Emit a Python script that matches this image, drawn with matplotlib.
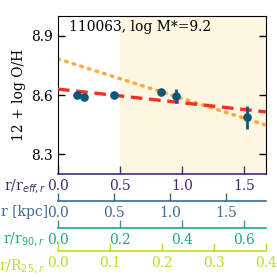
import numpy as np
import matplotlib
matplotlib.use('Agg')
import matplotlib.pyplot as plt

plt.rcParams.update({
    'font.family': 'DejaVu Serif',
    'font.size': 10,
    'mathtext.fontset': 'dejavusans',
    'xtick.direction': 'in',
    'ytick.direction': 'in',
})

# Galaxy info
GAL_ID = '110063'
LOG_MSTAR = 9.2

# Radial metallicity points (r in units of r_eff)
r_eff = [0.153, 0.21, 0.452, 0.83, 0.952, 1.524]
oh = [8.600, 8.590, 8.600, 8.615, 8.595, 8.488]
oh_err = [0.008, 0.008, 0.008, 0.008, 0.035, 0.058]

# Linear fits: (intercept, slope per r_eff)
fit_main = (8.630, -0.069)
fit_inner = (8.783, -0.200)

# Scale conversions
REFF_KPC = 1.107      # kpc per r_eff
R90_REFF = 2.5        # r90 in r_eff
R25_REFF = 4.19       # R25 in r_eff

XMAX = 1.677

C_PTS = '#0d5778'
C_RED = '#ee3326'
C_ORANGE = '#fbaa45'
C_SHADE = '#fdf7e1'
C_AX = ['#462b7a', '#3b6a97', '#22a784', '#bddd2a']

fig = plt.figure(figsize=(2.77, 2.77), dpi=100)
ax = fig.add_axes([0.209, 0.372, 0.751, 0.570])

ax.axvspan(0.5, XMAX, color=C_SHADE, zorder=0, lw=0)

xx = np.array([0, XMAX])
ax.plot(xx, fit_inner[0] + fit_inner[1] * xx, ls=(0, (0.5, 1.8)), color=C_ORANGE,
        lw=2.5, dash_capstyle='round', zorder=2)
ax.plot(xx, fit_main[0] + fit_main[1] * xx, ls=(0, (3.5, 2.0)), color=C_RED,
        lw=2.4, zorder=3)
ax.errorbar(r_eff, oh, yerr=oh_err, fmt='o', color=C_PTS, ms=5.2, elinewidth=2,
            capsize=0, zorder=4)

ax.set_xlim(0, XMAX)
ax.set_ylim(8.2, 9.0)
ax.set_yticks([8.3, 8.6, 8.9])
ax.set_xticks([0.0, 0.5, 1.0, 1.5])
ax.set_ylabel('12 + log O/H', labelpad=4)
ax.tick_params(axis='y', left=True, right=True, length=5, width=1)
ax.tick_params(axis='x', bottom=True, top=True, length=6, width=1,
               colors=C_AX[0], labelcolor=C_AX[0])
for t in ax.xaxis.get_major_ticks():
    t.tick2line.set_color('black')
ax.spines['bottom'].set_color(C_AX[0])
ax.spines['bottom'].set_linewidth(1.2)
ax.text(0.053, 0.93, f'{GAL_ID}, log M*={LOG_MSTAR}', transform=ax.transAxes,
        ha='left', va='center', fontsize=10)


def add_axis(offset_pt, scale, ticks, color, fmt):
    sec = ax.twiny()
    sec.set_xlim(0, XMAX * scale)
    for s in ['top', 'left', 'right']:
        sec.spines[s].set_visible(False)
    sec.spines['bottom'].set_position(('outward', offset_pt))
    sec.spines['bottom'].set_color(color)
    sec.spines['bottom'].set_linewidth(1.2)
    sec.xaxis.set_ticks_position('bottom')
    sec.xaxis.set_label_position('bottom')
    sec.set_xticks(ticks)
    sec.set_xticklabels([fmt.format(t) for t in ticks])
    sec.tick_params(axis='x', direction='in', length=6, width=1, colors=color)
    sec.patch.set_visible(False)
    return sec


add_axis(19.4, REFF_KPC, [0.0, 0.5, 1.0, 1.5], C_AX[1], '{:.1f}')
add_axis(38.9, 1 / R90_REFF, [0.0, 0.2, 0.4, 0.6], C_AX[2], '{:.1f}')
add_axis(55.5, 1 / R25_REFF, [0.0, 0.1, 0.2, 0.3, 0.4], C_AX[3], '{:.1f}')

labels = [r'r/r$_{eff,r}$', 'r [kpc]', r'r/r$_{90,r}$', r'r/R$_{25,r}$']
label_y = [186, 212, 239, 266]
label_x = [46, 48, 45, 45]
for lab, lx, ly, c in zip(labels, label_x, label_y, C_AX):
    fig.text(lx / 277, 1 - ly / 277, lab, color=c, ha='right', va='center', fontsize=10)

fig.savefig('out.png', dpi=100)
